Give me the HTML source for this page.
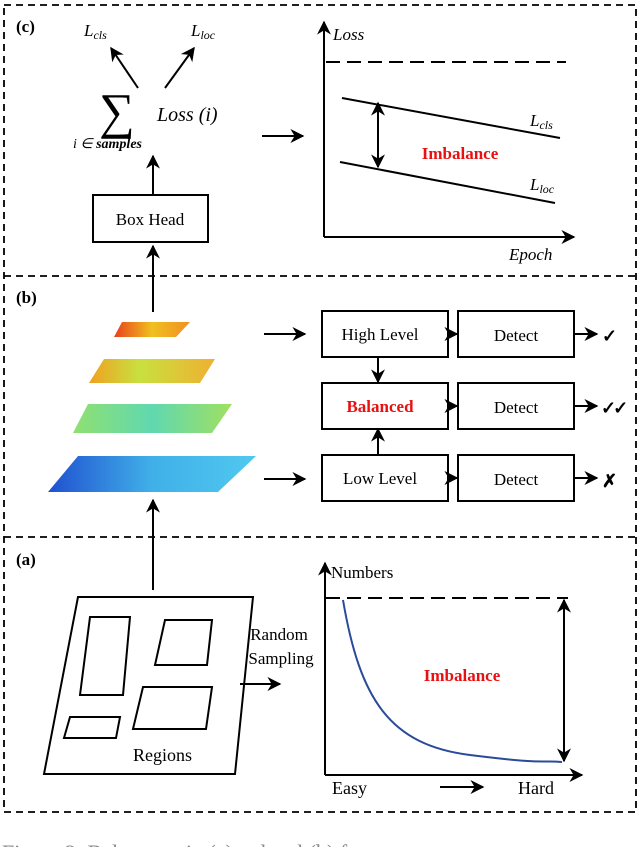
<!DOCTYPE html>
<html><head><meta charset="utf-8"><style>
body{margin:0;background:#fff;width:640px;height:847px;overflow:hidden}
svg{display:block}
text{font-family:"Liberation Serif",serif;fill:#000}
</style></head><body>
<svg width="640" height="847" viewBox="0 0 640 847">
<defs>
<marker id="a" viewBox="0 0 10 10" refX="9" refY="5" markerWidth="7" markerHeight="7" orient="auto-start-reverse"><path d="M0,0 L10,5 L0,10 L3,5z" fill="#000"/></marker>
<linearGradient id="g1" x1="0" x2="1"><stop offset="0" stop-color="#e8401a"/><stop offset=".5" stop-color="#f0c020"/><stop offset="1" stop-color="#f09020"/></linearGradient>
<linearGradient id="g2" x1="0" x2="1"><stop offset="0" stop-color="#f0a020"/><stop offset=".4" stop-color="#c8e040"/><stop offset="1" stop-color="#f0b030"/></linearGradient>
<linearGradient id="g3" x1="0" x2="1"><stop offset="0" stop-color="#90e070"/><stop offset=".5" stop-color="#60d8b0"/><stop offset="1" stop-color="#a0e060"/></linearGradient>
<linearGradient id="g4" x1="0" x2="1"><stop offset="0" stop-color="#2050d0"/><stop offset=".5" stop-color="#40b0e8"/><stop offset="1" stop-color="#50c8f0"/></linearGradient>
</defs>
<g fill="none" stroke="#000" stroke-width="1.8" stroke-dasharray="7,5">
<rect x="4" y="5" width="632" height="807"/>
<line x1="4" y1="276" x2="636" y2="276"/>
<line x1="4" y1="537" x2="636" y2="537"/>
</g>
<g font-weight="bold" font-size="17"><text x="16" y="32">(c)</text><text x="16" y="303">(b)</text><text x="16" y="565">(a)</text></g>
<!-- (c) -->
<g font-style="italic" font-size="17"><text x="84" y="36">L<tspan font-size="12" dy="3">cls</tspan></text><text x="191" y="36">L<tspan font-size="12" dy="3">loc</tspan></text>
<text x="157" y="121" font-size="20">Loss (i)</text>
<text x="73" y="148" font-size="14">i ∈ <tspan font-weight="bold">samples</tspan></text></g>
<text x="99" y="128" font-size="50" font-family="DejaVu Serif">∑</text>
<g stroke="#000" stroke-width="2" fill="none" marker-end="url(#a)">
<line x1="138" y1="88" x2="111" y2="48"/><line x1="165" y1="88" x2="194" y2="48"/>
<line x1="153" y1="194" x2="153" y2="156"/>
<line x1="262" y1="136" x2="303" y2="136"/>
<line x1="153" y1="312" x2="153" y2="246"/>
<line x1="324" y1="237" x2="324" y2="22"/><line x1="324" y1="237" x2="574" y2="237"/>
<line x1="378" y1="135" x2="378" y2="103" /><line x1="378" y1="135" x2="378" y2="167"/>
</g>
<rect x="93" y="195" width="115" height="47" fill="none" stroke="#000" stroke-width="2"/>
<text x="150" y="225" font-size="17" text-anchor="middle">Box Head</text>
<text x="333" y="40" font-style="italic" font-size="17">Loss</text>
<text x="509" y="260" font-style="italic" font-size="17">Epoch</text>
<line x1="326" y1="62" x2="566" y2="62" stroke="#000" stroke-width="2" stroke-dasharray="14,7"/>
<line x1="342" y1="98" x2="560" y2="138" stroke="#000" stroke-width="2"/>
<line x1="340" y1="162" x2="555" y2="203" stroke="#000" stroke-width="2"/>
<g font-style="italic" font-size="17"><text x="530" y="126">L<tspan font-size="12" dy="3">cls</tspan></text><text x="530" y="190">L<tspan font-size="12" dy="3">loc</tspan></text></g>
<text x="460" y="159" font-weight="bold" font-size="17" text-anchor="middle" style="fill:#e81010">Imbalance</text>
<!-- (b) -->
<polygon points="122,322 190,322 176,337 114,337" fill="url(#g1)"/>
<polygon points="104,359 215,359 200,383 89,383" fill="url(#g2)"/>
<polygon points="88,404 232,404 212,433 73,433" fill="url(#g3)"/>
<polygon points="78,456 256,456 218,492 48,492" fill="url(#g4)"/>
<g stroke="#000" stroke-width="2" fill="none" marker-end="url(#a)">
<line x1="264" y1="334" x2="305" y2="334"/><line x1="264" y1="479" x2="305" y2="479"/>
<line x1="153" y1="590" x2="153" y2="500"/>
<line x1="448" y1="334" x2="457" y2="334"/><line x1="448" y1="406" x2="457" y2="406"/><line x1="448" y1="478" x2="457" y2="478"/>
<line x1="574" y1="334" x2="597" y2="334"/><line x1="574" y1="406" x2="597" y2="406"/><line x1="574" y1="478" x2="597" y2="478"/>
<line x1="378" y1="357" x2="378" y2="382"/><line x1="378" y1="455" x2="378" y2="429"/>
</g>
<g fill="none" stroke="#000" stroke-width="2">
<rect x="322" y="311" width="126" height="46"/><rect x="322" y="383" width="126" height="46"/><rect x="322" y="455" width="126" height="46"/>
<rect x="458" y="311" width="116" height="46"/><rect x="458" y="383" width="116" height="46"/><rect x="458" y="455" width="116" height="46"/>
</g>
<g font-size="17" text-anchor="middle"><text x="380" y="340">High Level</text><text x="380" y="484">Low Level</text>
<text x="516" y="341">Detect</text><text x="516" y="413">Detect</text><text x="516" y="485">Detect</text></g>
<text x="380" y="412" font-weight="bold" font-size="17" text-anchor="middle" style="fill:#e81010">Balanced</text>
<g font-size="18" font-family="DejaVu Sans" font-weight="bold"><text x="602" y="342">✓</text><text x="601" y="414" letter-spacing="-3">✓✓</text><text x="602" y="487">✗</text></g>
<!-- (a) -->
<polygon points="78,597 253,597 235,774 44,774" fill="none" stroke="#000" stroke-width="2"/>
<g fill="none" stroke="#000" stroke-width="2">
<polygon points="90,617 130,617 123,695 80,695"/>
<polygon points="165,620 212,620 207,665 155,665"/>
<polygon points="143,687 212,687 206,729 133,729"/>
<polygon points="70,717 120,717 116,738 64,738"/>
</g>
<text x="133" y="761" font-size="18">Regions</text>
<text x="279" y="640" font-size="17" text-anchor="middle">Random</text>
<text x="281" y="664" font-size="17" text-anchor="middle">Sampling</text>
<g stroke="#000" stroke-width="2" fill="none" marker-end="url(#a)">
<line x1="240" y1="684" x2="280" y2="684"/>
<line x1="325" y1="775" x2="325" y2="563"/><line x1="325" y1="775" x2="582" y2="775"/>
<line x1="564" y1="680" x2="564" y2="600"/><line x1="564" y1="680" x2="564" y2="761"/>
<line x1="440" y1="787" x2="483" y2="787"/>
</g>
<text x="331" y="578" font-size="17">Numbers</text>
<line x1="326" y1="598" x2="568" y2="598" stroke="#000" stroke-width="2" stroke-dasharray="14,7"/>
<path d="M343,600 C360,700 390,745 470,755 S540,760 562,762" fill="none" stroke="#2a4a9a" stroke-width="2"/>
<text x="462" y="681" font-weight="bold" font-size="17" text-anchor="middle" style="fill:#e81010">Imbalance</text>
<text x="332" y="794" font-size="18">Easy</text><text x="518" y="794" font-size="18">Hard</text>
<text x="2" y="860" font-size="22" style="fill:#888">Figure 2: Balance ... in (a) ... level (b) fe</text>
</svg>
</body></html>
